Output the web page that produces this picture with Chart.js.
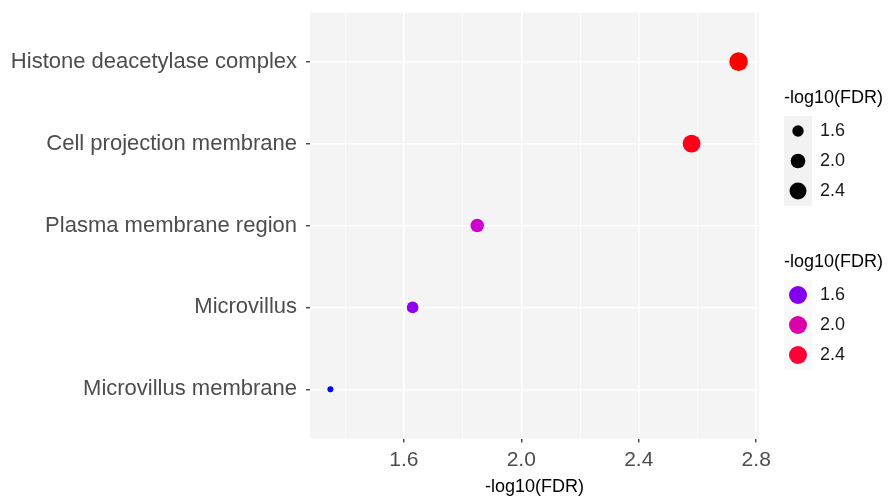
<!DOCTYPE html>
<html lang="en">
<head>
  <meta charset="UTF-8">
  <title>GO cellular component - dot plot</title>
  <script src="https://cdn.jsdelivr.net/npm/chart.js@4"></script>
  <style>
    body { margin: 0; background: #ffffff; }
    #wrap { width: 888px; height: 498px; position: relative; }
  </style>
</head>
<body>
  <div id="wrap"><canvas id="dotChart"></canvas></div>

  <script>
    // data
    const terms = [
      'Histone deacetylase complex',
      'Cell projection membrane',
      'Plasma membrane region',
      'Microvillus',
      'Microvillus membrane'
    ];
    const fdrScore = [2.74, 2.58, 1.85, 1.63, 1.35];   // -log10(FDR)
    const xMajorTicks = [1.6, 2.0, 2.4, 2.8];
    const xMinorTicks = [1.4, 1.8, 2.2, 2.6];
    const legendBreaks = [1.6, 2.0, 2.4];
    const legendTitle = '-log10(FDR)';

    const lo = Math.min(...fdrScore), hi = Math.max(...fdrScore);
    const span = hi - lo;
    const rescale = v => Math.max(0, Math.min(1, (v - lo) / span));

    // size scale (area based, like ggplot)
    function sizeOf(v) {
      return 3 + 6.3 * Math.sqrt(rescale(v));
    }

    // blue -> red colour ramp (stops)
    const rampStops = [
      [0.00, [0, 0, 255]],
      [0.19, [138, 0, 238]],
      [0.36, [208, 0, 208]],
      [0.47, [220, 0, 168]],
      [0.76, [255, 0, 51]],
      [1.00, [255, 0, 0]]
    ];
    function colourOf(v) {
      const t = rescale(v);
      for (let i = 1; i < rampStops.length; i++) {
        const [t1, c1] = rampStops[i];
        if (t <= t1) {
          const [t0, c0] = rampStops[i - 1];
          const f = (t - t0) / (t1 - t0);
          const c = c0.map((x, k) => Math.round(x + f * (c1[k] - x)));
          return 'rgb(' + c.join(',') + ')';
        }
      }
      return 'rgb(255,0,0)';
    }

    const FONT = '"Liberation Sans", Arial, sans-serif';
    const PANEL = { left: 310, right: 759, top: 12.5, bottom: 438.5 };

    // grey panel background
    const panelBg = {
      id: 'panelBg',
      beforeDraw(chart) {
        const a = chart.chartArea, c = chart.ctx;
        c.save();
        c.fillStyle = '#f4f4f4';
        c.fillRect(a.left, a.top, a.right - a.left, a.bottom - a.top);
        c.restore();
      }
    };

    // two legends on the right: size and colour
    const sideLegend = {
      id: 'sideLegend',
      afterDraw(chart) {
        const c = chart.ctx;
        const x0 = 784, keyW = 28, keyH = 30;
        c.save();
        c.textBaseline = 'middle';
        c.textAlign = 'left';

        function block(top, kind) {
          c.font = '18px ' + FONT;
          c.fillStyle = '#000000';
          c.fillText(legendTitle, x0, top);
          const keyTop = top + 18;
          c.fillStyle = kind === 'size' ? '#f2f2f2' : '#fafafa';
          c.fillRect(x0, keyTop, keyW, keyH * legendBreaks.length);
          legendBreaks.forEach((v, i) => {
            const cy = keyTop + keyH * i + keyH / 2;
            c.beginPath();
            c.arc(x0 + keyW / 2, cy, kind === 'size' ? sizeOf(v) : 9, 0, Math.PI * 2);
            c.fillStyle = kind === 'size' ? '#000000' : colourOf(v);
            c.fill();
            c.font = '18px ' + FONT;
            c.fillStyle = '#1a1a1a';
            c.fillText(v.toFixed(1), 820, cy);
          });
        }
        block(98, 'size');
        block(262, 'colour');
        c.restore();
      }
    };

    const ctx = document.getElementById('dotChart').getContext('2d');
    new Chart(ctx, {
      type: 'scatter',
      data: {
        datasets: [{
          label: legendTitle,
          data: fdrScore.map((v, i) => ({ x: v, y: i })),
          pointRadius: c => sizeOf(c.raw.x),
          pointHoverRadius: c => sizeOf(c.raw.x),
          backgroundColor: c => colourOf(c.raw.x),
          borderWidth: 0
        }]
      },
      options: {
        responsive: true,
        maintainAspectRatio: false,
        animation: false,
        layout: { padding: { left: 0, right: 888 - PANEL.right, top: PANEL.top, bottom: 0 } },
        plugins: { legend: { display: false }, tooltip: { enabled: false } },
        scales: {
          x: {
            type: 'linear',
            min: lo - 0.05 * span,
            max: hi + 0.05 * span,
            afterBuildTicks: s => {
              s.ticks = [...xMinorTicks, ...xMajorTicks].sort((a, b) => a - b).map(v => ({ value: v }));
            },
            afterFit: s => {
              s.height = 498 - PANEL.bottom;
              s.paddingLeft = 0; s.paddingRight = 0;
            },
            border: { display: false },
            grid: {
              color: '#ffffff',
              lineWidth: c => xMajorTicks.includes(c.tick && c.tick.value) ? 1.5 : 0.7,
              tickColor: c => xMajorTicks.includes(c.tick && c.tick.value) ? '#333333' : 'rgba(0,0,0,0)',
              tickLength: 4,
              tickWidth: 1.3
            },
            ticks: {
              autoSkip: false,
              maxRotation: 0,
              padding: 5,
              color: '#4d4d4d',
              font: { family: FONT, size: 21 },
              callback: v => xMajorTicks.includes(v) ? v.toFixed(1) : ''
            },
            title: {
              display: true,
              text: legendTitle,
              color: '#000000',
              font: { family: FONT, size: 18 },
              padding: 0
            }
          },
          y: {
            type: 'linear',
            reverse: true,
            min: -0.6,
            max: terms.length - 1 + 0.6,
            afterBuildTicks: s => { s.ticks = terms.map((t, i) => ({ value: i })); },
            afterFit: s => {
              s.width = PANEL.left;
              s.paddingTop = 0; s.paddingBottom = 0;
            },
            border: { display: false },
            grid: {
              color: '#ffffff',
              lineWidth: 1.5,
              tickColor: '#333333',
              tickLength: 4,
              tickWidth: 1.3
            },
            ticks: {
              autoSkip: false,
              padding: 9,
              color: '#4d4d4d',
              font: { family: FONT, size: 22 },
              callback: v => terms[v]
            }
          }
        }
      },
      plugins: [panelBg, sideLegend]
    });
  </script>
</body>
</html>
